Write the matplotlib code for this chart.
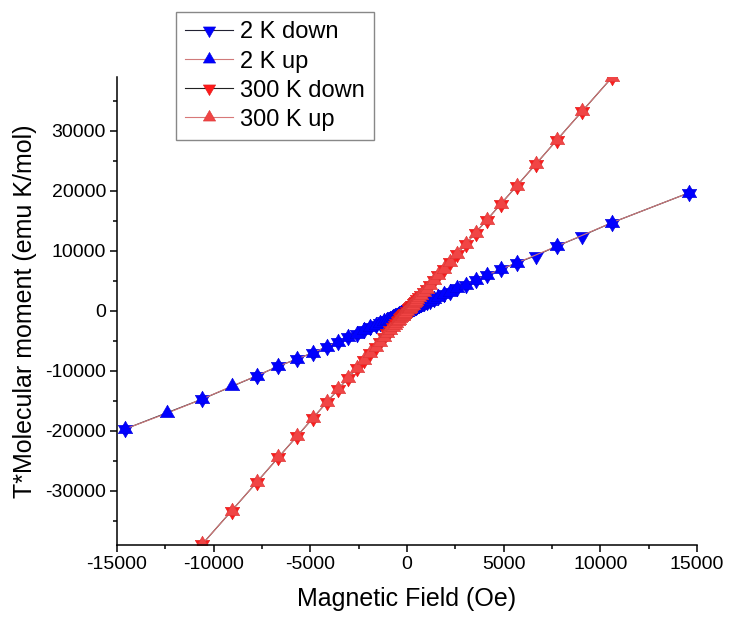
import matplotlib
matplotlib.use('Agg')
import matplotlib.pyplot as plt
from matplotlib.path import Path
from matplotlib.ticker import MultipleLocator

plt.rcParams['font.family'] = ['Liberation Sans', 'DejaVu Sans']
plt.rcParams['axes.unicode_minus'] = False

# field magnitudes (Oe), same for + and - side of each sweep
h_mag = [14600, 12420, 10600, 9070, 7760, 6650, 5680, 4860, 4150, 3550, 3040,
         2600, 2220, 1900, 1620, 1390, 1190, 1015, 870, 740, 635, 543, 464,
         397, 340, 290, 248, 212, 182, 155, 133, 114, 97]
# T*M (emu K/mol)
m_2k = [19700, 17050, 14700, 12550, 10800, 9200, 8000, 6950, 5980, 5120, 4400,
        3770, 3220, 2760, 2350, 2020, 1730, 1480, 1270, 1080, 925, 790, 675,
        578, 495, 422, 361, 308, 265, 226, 194, 166, 141]
m_300k = [53600, 45600, 38900, 33300, 28500, 24400, 20850, 17840, 15230, 13030,
          11160, 9540, 8150, 6970, 5950, 5100, 4370, 3730, 3190, 2720, 2330,
          1990, 1700, 1460, 1250, 1060, 910, 780, 670, 570, 490, 420, 360]

# points missing from a sweep
skip_2k_down_pos = [12420]
skip_2k_down_neg = [12420, 9070]
skip_2k_up_pos = [12420, 9070, 6650]
skip_2k_up_neg = []

# triangles centred on their centroid (so up+down overlap gives a star)
tri_up = Path([(0, 1), (-0.866, -0.5), (0.866, -0.5), (0, 1)], closed=True)
tri_down = Path([(0, -1), (-0.866, 0.5), (0.866, 0.5), (0, -1)], closed=True)


def sweep(h, m, skip_pos, skip_neg, down):
    pos = [(x, y) for x, y in zip(h, m) if x not in skip_pos]
    neg = [(-x, -y) for x, y in zip(h, m) if x not in skip_neg]
    if down:
        pts = pos + [(0, 0)] + neg[::-1]
    else:
        pts = neg + [(0, 0)] + pos[::-1]
    return [p[0] for p in pts], [p[1] for p in pts]


fig = plt.figure(figsize=(7.29, 6.2), dpi=100)
ax = fig.add_axes([0.1605, 0.121, 0.7955, 0.755])

ms = 12
x, y = sweep(h_mag, m_2k, skip_2k_down_pos, skip_2k_down_neg, True)
ax.plot(x, y, color='#222233', lw=0.8, marker=tri_down, ms=ms, mfc='#0000ff',
        mec='#0000dd', mew=0.4, label='2 K down')
x, y = sweep(h_mag, m_2k, skip_2k_up_pos, skip_2k_up_neg, False)
ax.plot(x, y, color='#d07a7a', lw=0.8, marker=tri_up, ms=ms, mfc='#0000ff',
        mec='#0000dd', mew=0.4, label='2 K up')
x, y = sweep(h_mag, m_300k, [], [], True)
ax.plot(x, y, color='#222222', lw=0.8, marker=tri_down, ms=ms, mfc='#ff1a1a',
        mec='#dd1a1a', mew=0.4, label='300 K down')
x, y = sweep(h_mag, m_300k, [], [], False)
ax.plot(x, y, color='#d87878', lw=0.8, marker=tri_up, ms=ms, mfc='#f04545',
        mec='#dd3535', mew=0.4, label='300 K up')

ax.set_xlim(-15000, 15000)
ax.set_ylim(-39000, 39000)
ax.xaxis.set_major_locator(MultipleLocator(5000))
ax.xaxis.set_minor_locator(MultipleLocator(2500))
ax.yaxis.set_major_locator(MultipleLocator(10000))
ax.yaxis.set_minor_locator(MultipleLocator(5000))
for s in ['top', 'right']:
    ax.spines[s].set_visible(False)
for s in ['left', 'bottom']:
    ax.spines[s].set_linewidth(1.1)
ax.tick_params(which='major', direction='out', length=5, width=1.1,
               labelsize=14, pad=3)
ax.tick_params(which='minor', direction='out', length=3, width=1.1)

ax.set_xlabel('Magnetic Field (Oe)', fontsize=18, labelpad=10)
ax.set_ylabel('T*Molecular moment (emu K/mol)', fontsize=18, labelpad=6)

leg = fig.legend(loc='upper left', bbox_to_anchor=(176 / 729, 1 - 12 / 620),
                 borderaxespad=0, fontsize=17, frameon=True, fancybox=False,
                 edgecolor='#888888', framealpha=1, handlelength=2.0,
                 handletextpad=0.3, labelspacing=0.3, borderpad=0.4,
                 markerscale=0.85)
leg.get_frame().set_linewidth(1.0)

fig.savefig('out.png', dpi=100)
